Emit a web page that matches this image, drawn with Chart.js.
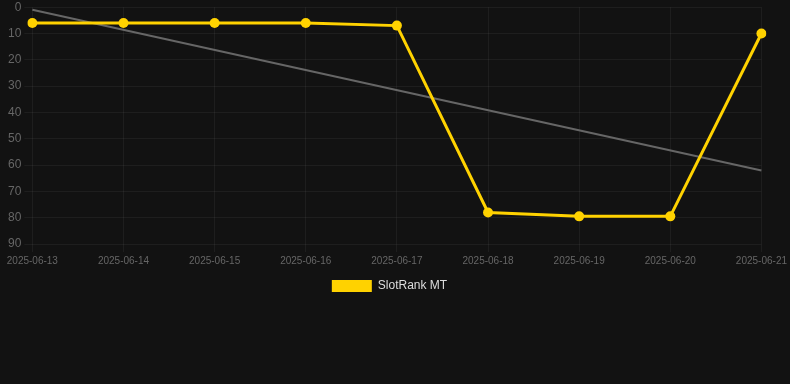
<!DOCTYPE html>
<html>
<head>
<meta charset="utf-8">
<script src="https://cdn.jsdelivr.net/npm/chart.js@4"></script>
<style>
  html, body { margin: 0; padding: 0; background: #121212; overflow: hidden; }
  #wrap { width: 790px; height: 305px; position: relative; top: -3px; }
</style>
</head>
<body>
<div id="wrap"><canvas id="rankChart"></canvas></div>
<script>
var dates = ['2025-06-13', '2025-06-14', '2025-06-15', '2025-06-16', '2025-06-17',
             '2025-06-18', '2025-06-19', '2025-06-20', '2025-06-21'];
var rankValues = [6, 6, 6, 6, 7, 78, 79.5, 79.5, 10];
var trendValues = [1, null, null, null, null, null, null, null, 62.1];
var yTicks = [0, 10, 20, 30, 40, 50, 60, 70, 80, 90];

var gridColor = 'rgba(255,255,255,0.05)';   // faint grid
var tickColor = '#666666';

// nudge the legend a little to the left, like the original
var legendShift = {
  id: 'legendShift',
  afterLayout: function (chart) {
    if (chart.legend) {
      chart.legend.left -= 8;
      chart.legend.right -= 8;
    }
  }
};

new Chart(document.getElementById('rankChart'), {
  type: 'line',
  data: {
    labels: dates,
    datasets: [{
      label: 'SlotRank MT',
      data: rankValues,
      borderColor: '#ffd200',
      backgroundColor: '#ffd200',
      borderWidth: 3,
      pointRadius: 5,
      pointBackgroundColor: '#ffd200',
      pointBorderWidth: 0,
      tension: 0,
      order: 1
    }, {
      label: 'trend',
      data: trendValues,
      borderColor: '#666666',
      borderWidth: 2,
      pointRadius: 0,
      spanGaps: true,
      order: 2
    }]
  },
  plugins: [legendShift],
  options: {
    responsive: true,
    maintainAspectRatio: false,
    animation: false,
    layout: { padding: { left: 5 } },
    scales: {
      x: {
        grid: { color: gridColor },
        border: { display: false },
        ticks: { color: tickColor, font: { size: 10 }, maxRotation: 0 }
      },
      y: {
        reverse: true,
        min: 0,
        max: 90,
        afterBuildTicks: function (axis) {
          axis.ticks = yTicks.map(function (v) { return { value: v }; });
        },
        grid: { color: gridColor },
        border: { display: false },
        ticks: { color: tickColor, font: { size: 12 } }
      }
    },
    plugins: {
      legend: {
        position: 'bottom',
        labels: {
          color: '#dddddd',
          font: { size: 12 },
          boxWidth: 40,
          boxHeight: 12,
          generateLabels: function (chart) {
            return [{
              text: 'SlotRank MT',
              fillStyle: '#ffd200',
              strokeStyle: '#ffd200',
              lineWidth: 0,
              fontColor: '#dddddd',
              hidden: false,
              datasetIndex: 0
            }];
          }
        }
      },
      tooltip: { enabled: false }
    }
  }
});
</script>
</body>
</html>
